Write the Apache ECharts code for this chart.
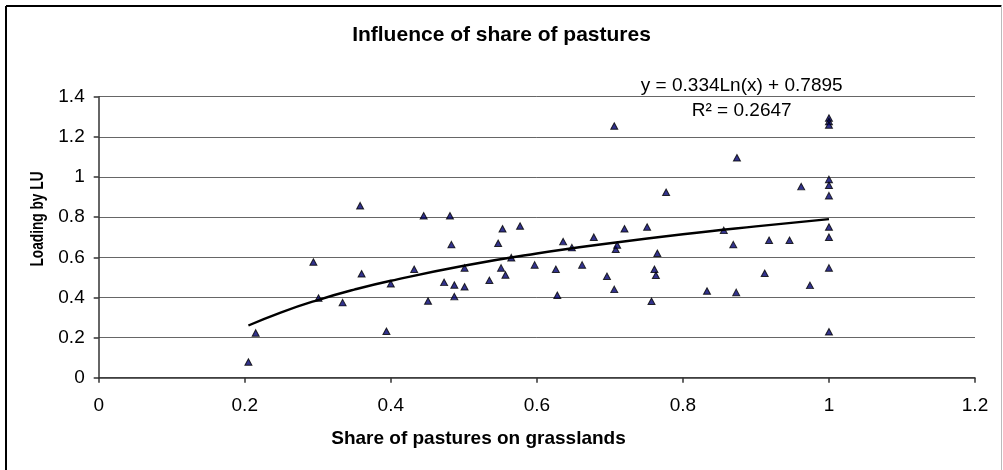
<!DOCTYPE html>
<html>
<head>
<meta charset="utf-8">
<script src="https://cdn.jsdelivr.net/npm/echarts@6/dist/echarts.min.js"></script>
<style>
html,body{margin:0;padding:0;background:#fff;}
#chart{width:1003px;height:470px;}
</style>
</head>
<body>
<div id="chart"></div>
<script>
// ---- data ----
const chartTitle = 'Influence of share of pastures';
const xAxisTitle = 'Share of pastures on grasslands';
const yAxisTitle = 'Loading by LU';
const equationText = 'y = 0.334Ln(x) + 0.7895';
const r2Text = 'R² = 0.2647';

const xTickLabels = ['0', '0.2', '0.4', '0.6', '0.8', '1', '1.2'];
const yTickLabels = ['0', '0.2', '0.4', '0.6', '0.8', '1', '1.2', '1.4'];

// share of pastures on grasslands (x) and loading by LU (y)
const shareX = [
  0.205, 0.215, 0.294, 0.301, 0.334, 0.358, 0.360, 0.394, 0.400, 0.432, 0.445, 0.451,
  0.481, 0.483, 0.473, 0.487, 0.487, 0.501, 0.501, 0.535, 0.547, 0.553, 0.551, 0.557,
  0.565, 0.577, 0.597, 0.626, 0.628, 0.636, 0.648, 0.662, 0.678, 0.696, 0.706, 0.708,
  0.710, 0.720, 0.777, 0.751, 0.757, 0.761, 0.763, 0.765, 0.706,
  1.0, 1.0, 1.0, 0.874, 0.962, 1.0, 1.0, 1.0, 0.856, 0.869, 0.918, 0.946,
  1.0, 1.0, 0.912, 0.974, 1.0, 0.833, 0.873, 1.0
];
const loadingY = [
  0.078, 0.223, 0.576, 0.397, 0.374, 0.857, 0.518, 0.231, 0.468, 0.540, 0.807, 0.382,
  0.807, 0.663, 0.475, 0.462, 0.404, 0.547, 0.453, 0.485, 0.670, 0.742, 0.547, 0.512,
  0.598, 0.756, 0.562, 0.540, 0.411, 0.678, 0.648, 0.562, 0.700, 0.505, 0.440, 0.640,
  0.661, 0.742, 0.924, 0.751, 0.381, 0.540, 0.510, 0.620, 1.254,
  1.294, 1.276, 1.259, 1.096, 0.952, 0.988, 0.959, 0.907, 0.734, 0.663, 0.685, 0.685,
  0.751, 0.700, 0.520, 0.460, 0.547, 0.432, 0.425, 0.229
];

// logarithmic trendline
const trendX = [0.205, 0.25, 0.30, 0.35, 0.40, 0.50, 0.60, 0.70, 0.80, 0.90, 1.0];
const trendY = [0.260, 0.326, 0.387, 0.439, 0.483, 0.558, 0.619, 0.670, 0.715, 0.754, 0.790];

// ---- chart ----
const FONT = '"Liberation Sans", Arial, sans-serif';
const chart = echarts.init(document.getElementById('chart'), null, {renderer: 'canvas'});

const scatterData = shareX.map((x, i) => [x, loadingY[i]]);
const trendData = trendX.map((x, i) => [x, trendY[i]]);

chart.setOption({
  backgroundColor: '#ffffff',
  animation: false,
  title: {
    text: chartTitle,
    left: 'center',
    top: 23,
    padding: 0,
    textStyle: {fontFamily: FONT, fontSize: 21, fontWeight: 'bold', color: '#000', lineHeight: 24}
  },
  grid: {left: 98.7, right: 28, top: 96.7, bottom: 92.3, containLabel: false},
  xAxis: {
    type: 'value',
    min: 0, max: 1.2, interval: 0.2,
    axisLine: {show: true, onZero: false, lineStyle: {color: '#333', width: 1.5}},
    axisTick: {show: true, inside: false, length: 5, lineStyle: {color: '#333', width: 1.5}},
    axisLabel: {
      margin: 19,
      fontFamily: FONT, fontSize: 19, color: '#000',
      formatter: (v) => xTickLabels[Math.round(v / 0.2)]
    },
    splitLine: {show: false}
  },
  yAxis: {
    type: 'value',
    min: 0, max: 1.4, interval: 0.2,
    axisLine: {show: true, onZero: false, lineStyle: {color: '#333', width: 1.5}},
    axisTick: {show: true, inside: false, length: 5, lineStyle: {color: '#333', width: 1.5}},
    axisLabel: {
      margin: 14,
      fontFamily: FONT, fontSize: 19, color: '#000',
      formatter: (v) => yTickLabels[Math.round(v / 0.2)]
    },
    splitLine: {show: true, lineStyle: {color: '#666', width: 1}}
  },
  series: [
    {
      name: 'Loading',
      type: 'scatter',
      data: scatterData,
      symbol: 'triangle',
      symbolSize: [7, 6.5],
      itemStyle: {color: '#000070', borderColor: '#000', borderWidth: 1},
      z: 3
    },
    {
      name: 'Trend',
      type: 'line',
      data: trendData,
      smooth: true,
      showSymbol: false,
      symbol: 'none',
      lineStyle: {color: '#000', width: 2.4},
      z: 4
    }
  ],
  graphic: [
    {type: 'line', shape: {x1: 6, y1: 6, x2: 1001.5, y2: 6}, style: {stroke: '#000', lineWidth: 2}},
    {type: 'line', shape: {x1: 6, y1: 6, x2: 6, y2: 470}, style: {stroke: '#000', lineWidth: 2}},
    {type: 'line', shape: {x1: 1001.5, y1: 6, x2: 1001.5, y2: 470}, style: {stroke: '#bbb', lineWidth: 1}},
    {
      type: 'text', x: 741.7, y: 86,
      style: {text: equationText, fontFamily: FONT, fontSize: 19, fill: '#000', align: 'center', verticalAlign: 'middle'}
    },
    {
      type: 'text', x: 741.7, y: 111,
      style: {text: r2Text, fontFamily: FONT, fontSize: 19, fill: '#000', align: 'center', verticalAlign: 'middle'}
    },
    {
      type: 'text', x: 478.5, y: 438.5,
      style: {text: xAxisTitle, fontFamily: FONT, fontSize: 19, fontWeight: 'bold', fill: '#000', align: 'center', verticalAlign: 'middle'}
    },
    {
      type: 'text', x: 38.3, y: 219, rotation: Math.PI / 2, scaleX: 0.74, scaleY: 1,
      style: {text: yAxisTitle, fontFamily: FONT, fontSize: 18.5, fontWeight: 'bold', fill: '#000', align: 'center', verticalAlign: 'middle'}
    }
  ]
});
</script>
</body>
</html>
